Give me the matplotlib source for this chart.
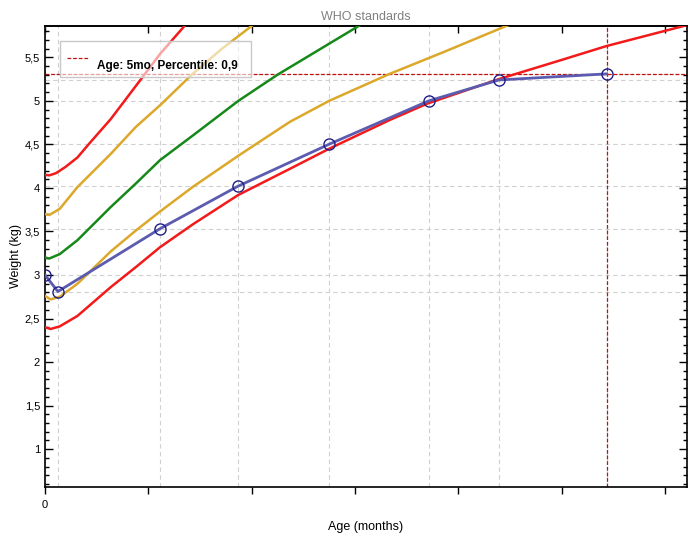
import numpy as np
import matplotlib.pyplot as plt
from matplotlib.ticker import MultipleLocator, FuncFormatter
from matplotlib.patches import Rectangle
from matplotlib.lines import Line2D

plt.rcParams['font.family'] = ['Liberation Sans', 'DejaVu Sans']

# WHO percentile curves (x in days)
p3_days = [0, 1.5, 4, 8.8, 17.8, 24.6, 31.2, 40, 52.4, 66.4, 77, 93.4, 103.7, 123, 140, 152.2, 174]
p3_w = [2.40, 2.38, 2.41, 2.53, 2.86, 3.09, 3.32, 3.58, 3.92, 4.22, 4.45, 4.78, 4.97, 5.25, 5.47, 5.63, 5.87]

p15_days = [0, 1.5, 4, 8.8, 17.8, 24.6, 31.2, 40, 52.4, 66.4, 77, 93.4, 108, 125, 130]
p15_w = [2.76, 2.72, 2.75, 2.90, 3.27, 3.51, 3.73, 4.01, 4.37, 4.76, 5.00, 5.31, 5.56, 5.86, 5.94]

p50_days = [0, 1.2, 4, 8.8, 17.8, 24.6, 31.2, 40, 52.4, 63, 74, 85, 90]
p50_w = [3.20, 3.19, 3.24, 3.40, 3.78, 4.05, 4.32, 4.60, 5.00, 5.30, 5.58, 5.86, 5.98]

p85_days = [0, 1.2, 4, 8.8, 17.8, 24.6, 31.2, 40, 48, 56, 60]
p85_w = [3.70, 3.69, 3.76, 4.01, 4.39, 4.70, 4.95, 5.31, 5.60, 5.86, 5.98]

p97_days = [0, 1.2, 3, 5.5, 8.8, 12, 17.8, 24.6, 31.2, 37.8, 42]
p97_w = [4.15, 4.145, 4.17, 4.24, 4.35, 4.51, 4.79, 5.17, 5.54, 5.86, 6.04]

# measured child
child_days = [0, 3.5, 31.1, 52.3, 76.9, 104, 123, 152.2]
child_w = [3.0, 2.81, 3.53, 4.02, 4.5, 5.0, 5.24, 5.31]

sel_day = 152.2
sel_w = 5.31
x_ticks = [0, 28, 56, 84, 112, 140, 168]

fig = plt.figure(figsize=(6.94, 5.4), dpi=100)
ax = fig.add_axes([45/694, 1 - 487/540, 642/694, 461/540])
ax.set_xlim(0, 174)
ax.set_ylim(0.565, 5.86)

# grid at the child's measurements
for d in child_days:
    ax.axvline(d, color='#d0d0d0', lw=0.8, ls=(0, (4, 3)), zorder=1)
for w in child_w:
    ax.axhline(w, color='#d0d0d0', lw=0.8, ls=(0, (4, 3)), zorder=1)

red = '#f21a1a'
gold = '#dca82a'
green = '#16891a'
ax.plot(p3_days, p3_w, color=red, lw=1.8, zorder=3)
ax.plot(p15_days, p15_w, color=gold, lw=1.8, zorder=3)
ax.plot(p50_days, p50_w, color=green, lw=1.8, zorder=3)
ax.plot(p85_days, p85_w, color=gold, lw=1.8, zorder=3)
ax.plot(p97_days, p97_w, color=red, lw=1.8, zorder=3)

ax.axvline(sel_day, color='#c01010', lw=0.9, ls=(0, (3, 1.5)), zorder=2)
ax.axhline(sel_w, color='#c01010', lw=0.9, ls=(0, (3, 1.5)), zorder=2)

ax.plot(child_days, child_w, color='#5b5bb0', lw=2, zorder=4,
        marker='o', ms=8, mfc='none', mec='#1e1e88', mew=1)

# legend box
ax.add_patch(Rectangle((0.0234, 0.889), 0.297, 0.079, transform=ax.transAxes,
                       facecolor='white', alpha=0.6, edgecolor='none', zorder=5))
ax.add_patch(Rectangle((0.0234, 0.889), 0.297, 0.079, transform=ax.transAxes,
                       facecolor='none', edgecolor='#c8c8c8', lw=1, zorder=6))
ax.add_line(Line2D([0.034, 0.067], [0.931, 0.931], transform=ax.transAxes,
                   color='#c01010', lw=0.9, ls=(0, (3, 1.5)), zorder=6))
ax.text(0.081, 0.913, 'Age: 5mo, Percentile: 0,9', transform=ax.transAxes,
        fontsize=8.5, fontweight='bold', va='center', ha='left', zorder=6)

# axes styling
ax.set_xticks(x_ticks)
ax.set_xticklabels(['0'] + [''] * (len(x_ticks) - 1), fontsize=8)
ax.tick_params(axis='x', direction='out', length=5, width=1, pad=4)
ax.yaxis.set_major_locator(MultipleLocator(0.5))
ax.yaxis.set_minor_locator(MultipleLocator(0.1))
ax.yaxis.set_major_formatter(FuncFormatter(lambda v, p: ('%g' % v).replace('.', ',')))
ax.tick_params(axis='y', which='major', direction='in', length=6, width=1, right=True, labelsize=8)
ax.tick_params(axis='y', which='minor', direction='in', length=3, width=1, right=True)
top = ax.secondary_xaxis('top')
top.set_xticks(x_ticks)
top.tick_params(direction='in', length=5, width=1, labeltop=False)
for s in ax.spines.values():
    s.set_linewidth(1.2)
top.spines['top'].set_linewidth(1.2)

ax.set_title('WHO standards', fontsize=9, color='#808080', pad=4)
ax.set_xlabel('Age (months)', fontsize=9, labelpad=8)
ax.set_ylabel('Weight (kg)', fontsize=9, labelpad=2)

fig.savefig('out.png', dpi=100)
